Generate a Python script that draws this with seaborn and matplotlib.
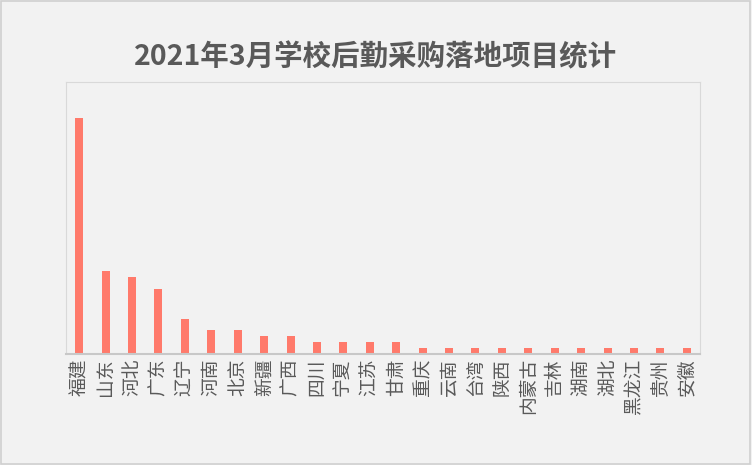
import matplotlib
matplotlib.use("Agg")
import matplotlib.pyplot as plt
import seaborn as sns
import pandas as pd

provinces = ["福建","山东","河北","广东","辽宁","河南","北京","新疆","广西","四川","宁夏","江苏","甘肃",
             "重庆","云南","台湾","陕西","内蒙古","吉林","湖南","湖北","黑龙江","贵州","安徽"]
counts = [40,14,13,11,6,4,4,3,3,2,2,2,2,1,1,1,1,1,1,1,1,1,1,1]
df = pd.DataFrame({"p": provinces, "n": counts})

plt.rcParams["font.family"] = "Noto Sans CJK SC"
fig = plt.figure(figsize=(7.52, 4.65), dpi=100, facecolor="#f2f2f2")
fig.patches.append(plt.Rectangle((0.001, 0.002), 0.997, 0.995, transform=fig.transFigure,
                                 fill=False, edgecolor="#d0d0d0", linewidth=1.2))
ax = fig.add_axes([66/752, 1-354/465, 634/752, 272/465])
ax.set_facecolor("#f2f2f2")
sns.barplot(data=df, x="p", y="n", color="#ff7a6b", width=0.3, saturation=1, ax=ax)
ax.set_ylim(0, 40*272/236)
ax.set_xlim(-0.5, len(provinces)-0.5)
ax.set_yticks([])
ax.set_xlabel(""); ax.set_ylabel("")
ax.tick_params(axis="x", length=0, rotation=90, labelsize=13.5, colors="#595959", pad=3)
for s in ax.spines.values():
    s.set_color("#d9d9d9")
ax.spines["bottom"].set_color("#c8c8c8")
ax.spines["bottom"].set_linewidth(1.5)
fig.text(0.5, 1-57/465, "2021年3月学校后勤采购落地项目统计", ha="center", va="center",
         fontsize=20.5, fontweight="bold", color="#595959")
fig.savefig("out.png", dpi=100, facecolor=fig.get_facecolor())
